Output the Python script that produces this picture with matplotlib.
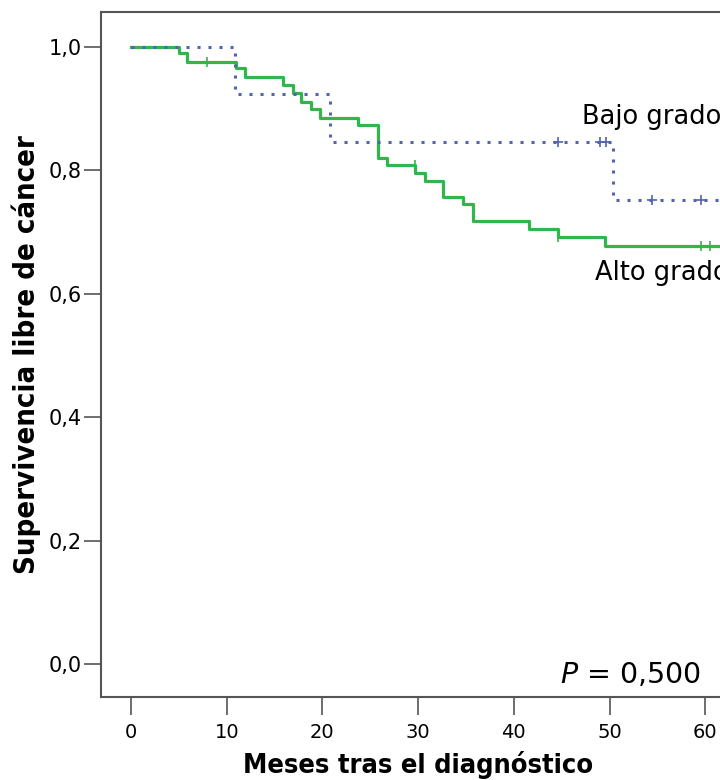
import matplotlib.pyplot as plt

# Kaplan-Meier steps (months, survival)
alto_t = [0, 5.0, 5.9, 11.0, 11.9, 15.9, 16.9, 17.8, 18.8, 19.7, 23.7, 25.8,
          26.7, 29.7, 30.7, 32.6, 34.7, 35.7, 41.6, 44.6, 49.5, 63]
alto_s = [1.0, 0.990, 0.976, 0.966, 0.951, 0.938, 0.925, 0.911, 0.899, 0.885,
          0.874, 0.820, 0.809, 0.796, 0.783, 0.757, 0.746, 0.718, 0.705, 0.692,
          0.677, 0.677]
alto_cens_t = [7.9, 29.7, 44.6, 59.5, 60.5]
alto_cens_s = [0.976, 0.809, 0.692, 0.677, 0.677]

bajo_t = [0, 10.9, 20.8, 50.4, 63]
bajo_s = [1.0, 0.923, 0.846, 0.752, 0.752]
bajo_cens_t = [44.6, 49.0, 49.6, 54.4, 59.5]
bajo_cens_s = [0.846, 0.846, 0.846, 0.752, 0.752]

xticks = [0, 10, 20, 30, 40, 50, 60]
yticks = [0.0, 0.2, 0.4, 0.6, 0.8, 1.0]
ytick_labels = ['0,0', '0,2', '0,4', '0,6', '0,8', '1,0']

green = '#33b54d'
blue = '#5264ad'
frame = '#555555'

fig = plt.figure(figsize=(7.2, 7.8), dpi=100)
ax = fig.add_axes((101 / 720, 83 / 780, 634 / 720, 685 / 780))

ax.step(alto_t, alto_s, where='post', color=green, lw=2.3, zorder=2)
ax.plot(alto_cens_t, alto_cens_s, ls='none', marker='|', ms=7, mew=1.2,
        color=green, zorder=2)
ax.step(bajo_t, bajo_s, where='post', color=blue, lw=2.2,
        linestyle=(0, (1, 2.6)), zorder=3)
ax.plot(bajo_cens_t, bajo_cens_s, ls='none', marker='+', ms=7, mew=1.2,
        color=blue, zorder=3)

ax.set_xlim(-3.13, 63.1)
ax.set_ylim(-0.0535, 1.0567)

ax.set_xticks(xticks)
ax.set_yticks(yticks)
ax.set_yticklabels(ytick_labels)
ax.tick_params(axis='y', length=12, width=1.2, color=frame, labelsize=15,
               pad=2)
ax.tick_params(axis='x', length=13, width=1.2, color=frame, labelsize=14,
               pad=6)
for sp in ax.spines.values():
    sp.set_color(frame)
    sp.set_linewidth(1.5)

ax.set_xlabel('Meses tras el diagnóstico', family='DejaVu Sans',
              fontstretch='condensed', fontweight='bold', fontsize=19.5,
              labelpad=6)
ax.set_ylabel('Supervivencia libre de cáncer', family='DejaVu Sans',
              fontstretch='condensed', fontweight='bold', fontsize=21,
              labelpad=5)

ax.text(47.1, 0.875, 'Bajo grado', fontsize=18.5, va='baseline')
ax.text(48.5, 0.622, 'Alto grado', fontsize=18.5, va='baseline')
ax.text(44.8, -0.031, r'$\it{P}$ = 0,500', fontsize=20.5, va='baseline')

fig.savefig('out.png', dpi=100)
